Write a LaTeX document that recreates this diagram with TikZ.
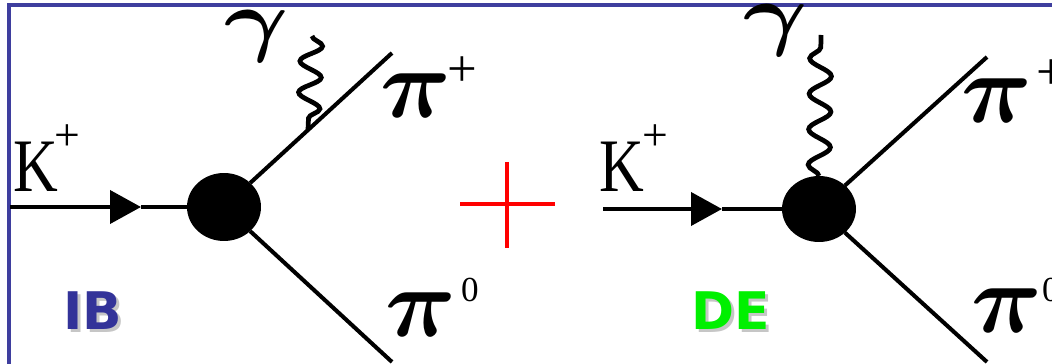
\documentclass[tikz,border=0pt]{standalone}
\usepackage{fontspec}
\setmainfont{Liberation Serif}
\newfontfamily\tagfont{DejaVu Sans}
\usetikzlibrary{shapes.geometric,arrows.meta,decorations.pathmorphing,calc}
\definecolor{frameblue}{RGB}{62,62,158}
\definecolor{ibblue}{RGB}{51,51,153}
\definecolor{degreen}{RGB}{0,240,0}

\begin{document}
\begin{tikzpicture}[x=0.02cm,y=-0.02cm,line width=2.3pt,
 every node/.style={inner sep=0pt,outer sep=0pt},
 blob/.style={ellipse,fill=black,minimum width=1.48cm,minimum height=1.36cm},
 kin/.style={-{Triangle[length=0.62cm,width=0.66cm]}},
 photon/.style={line width=2.7pt,decorate,decoration={snake,segment length=#1,amplitude=0.22cm}},
 photon/.default=0.71cm,
 klab/.style={font=\fontsize{43}{43}\selectfont},
 kup/.style={font=\fontsize{26}{26}\selectfont},
 piup/.style={font=\fontsize{30}{30}\selectfont},
 zup/.style={font=\fontsize{20}{20}\selectfont},
 tag/.style={font=\tagfont\bfseries\fontsize{29.5}{29.5}\selectfont}]
\useasboundingbox (0,0) rectangle (1052,364);
\clip (0,0) rectangle (1052,364);
\draw[frameblue,line width=1.9pt] (1060,5) -- (9,5) -- (9,370);
% inner bremsstrahlung
\node[blob] (v1) at (224,207) {};
\coordinate (ki1) at (10,207);
\coordinate (ka1) at (141,207);
\coordinate (pp1) at (392,53);
\coordinate (pz1) at (392,362);
\coordinate (gt1) at (312,36);
\coordinate (gb1) at ($(v1)!0.5!(pp1)$);
\draw[kin] (ki1) -- (ka1);
\draw (ka1) -- (v1);
\draw (v1) -- (pp1);
\draw (v1) -- (pz1);
\draw[photon=0.627cm] (gt1) -- (gb1);
\node[klab] (k1) at (36,167) {\scalebox{0.82}[1]{K}};
\node[kup] (k1s) at (67,138) {+};
\node (g1) at (257,36) {\scalebox{5.6}[4.6]{\boldmath$\gamma$}};
\node (p1) at (416,96) {\scalebox{5.6}{\boldmath$\pi$}};
\node[piup] (p1s) at (462,72) {+};
\node (z1) at (421,315) {\scalebox{5.6}{\boldmath$\pi$}};
\node[zup] (z1s) at (470,290) {0};
\node[tag,gray!45] (ibs) at (95.5,313.5) {IB};
\node[tag,ibblue] (ib) at (93,311) {IB};
% plus sign
\draw[red,line width=2.2pt] (460,204) -- (555,204) (507,162) -- (507,248);
% direct emission
\node[blob,minimum height=1.32cm] (v2) at (819,209) {};
\coordinate (ki2) at (603,209);
\coordinate (ka2) at (722,209);
\coordinate (pp2) at (987,57);
\coordinate (pz2) at (987,362);
\coordinate (gt2) at (821,35);
\draw[kin] (ki2) -- (ka2);
\draw (ka2) -- (v2);
\draw (v2) -- (pp2);
\draw (v2) -- (pz2);
\draw[photon] (v2.north) -- (gt2);
\node[klab] (k2) at (622,167) {\scalebox{0.82}[1]{K}};
\node[kup] (k2s) at (655,138) {+};
\node (g2) at (776,30) {\scalebox{5.6}[4.6]{\boldmath$\gamma$}};
\node (p2) at (997,101) {\scalebox{5.6}{\boldmath$\pi$}};
\node[piup] (p2s) at (1051,75) {+};
\node (z2) at (1007,311) {\scalebox{5.6}{\boldmath$\pi$}};
\node[zup] (z2s) at (1051,290) {0};
\node[tag,gray!45] (des) at (733.5,313.5) {DE};
\node[tag,degreen] (de) at (731,311) {DE};
\end{tikzpicture}
\end{document}
